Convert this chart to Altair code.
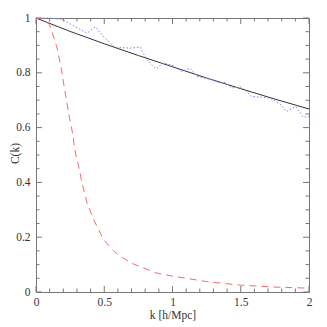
import altair as alt
import pandas as pd

# ---- data ----
black_k = [0.0, 0.25, 0.5, 0.75, 1.0, 1.25, 1.5, 1.75, 2.0]
black_c = [1.0, 0.951, 0.906, 0.863, 0.822, 0.781, 0.742, 0.704, 0.668]

blue_k = [0.0, 0.1, 0.19, 0.28, 0.374, 0.435, 0.5, 0.544, 0.58, 0.69, 0.763, 0.81,
          0.88, 0.934, 1.007, 1.068, 1.128, 1.177, 1.275, 1.348, 1.384, 1.433,
          1.506, 1.579, 1.713, 1.786, 1.835, 1.903, 1.956, 2.0]
blue_c = [1.0, 1.0, 0.995, 0.97, 0.945, 0.968, 0.93, 0.908, 0.893, 0.89, 0.894, 0.85,
          0.814, 0.836, 0.826, 0.805, 0.817, 0.787, 0.777, 0.763, 0.765, 0.745,
          0.748, 0.714, 0.708, 0.687, 0.659, 0.677, 0.639, 0.639]

red_k = [0.0, 0.05, 0.1, 0.155, 0.186, 0.203, 0.24, 0.264, 0.289, 0.313, 0.337,
         0.374, 0.422, 0.495, 0.568, 0.617, 0.714, 0.885, 1.0, 1.25, 1.5, 1.75, 2.0]
red_c = [1.0, 0.997, 0.975, 0.89, 0.815, 0.76, 0.65, 0.59, 0.507, 0.458, 0.398,
         0.325, 0.264, 0.191, 0.15, 0.13, 0.102, 0.069, 0.058, 0.038, 0.025, 0.018, 0.014]

x_major = [0, 0.5, 1, 1.5, 2]
x_minor = [0.1, 0.2, 0.3, 0.4, 0.6, 0.7, 0.8, 0.9, 1.1, 1.2, 1.3, 1.4, 1.6, 1.7, 1.8, 1.9]
y_major = [0, 0.2, 0.4, 0.6, 0.8, 1]
y_minor = [0.05, 0.1, 0.15, 0.25, 0.3, 0.35, 0.45, 0.5, 0.55, 0.65, 0.7, 0.75, 0.85, 0.9, 0.95]

W, H = 273, 274
FONT = "Liberation Serif"
TXT = "#333333"
GRAY = "#777777"
MAJ, MIN = 6, 3.5
FS = 11.5

xs = alt.Scale(domain=[0, 2], nice=False, zero=False)
ys = alt.Scale(domain=[0, 1], nice=False, zero=False)

xaxis = alt.Axis(values=x_major, format="~g", title="k [h/Mpc]", domain=False, ticks=False,
                 grid=False, labelPadding=4, labelFlush=False, labelFont=FONT, labelFontSize=FS,
                 titleFont=FONT, titleFontSize=FS, titleFontWeight="normal",
                 labelColor=TXT, titleColor=TXT, titleX=W / 2, titleY=23,
                 titleBaseline="middle", titleAlign="center")
yaxis = alt.Axis(values=y_major, format="~g", title="C(k)", domain=False, ticks=False,
                 grid=False, labelPadding=6, labelFlush=False, labelFont=FONT, labelFontSize=FS,
                 titleFont=FONT, titleFontSize=FS, titleFontWeight="normal",
                 labelColor=TXT, titleColor=TXT, titleX=-21, titleY=135,
                 titleBaseline="middle", titleAlign="center", titleAngle=270)

df_black = pd.DataFrame({"k": black_k, "c": black_c})
df_blue = pd.DataFrame({"k": blue_k, "c": blue_c})
df_red = pd.DataFrame({"k": red_k, "c": red_c})

black = alt.Chart(df_black).mark_line(color="#333333", strokeWidth=1).encode(
    x=alt.X("k:Q", scale=xs, axis=xaxis), y=alt.Y("c:Q", scale=ys, axis=yaxis))
blue = alt.Chart(df_blue).mark_line(color="#8080ff", strokeWidth=1, strokeDash=[1.5, 2]).encode(
    x=alt.X("k:Q", scale=xs), y=alt.Y("c:Q", scale=ys))
red = alt.Chart(df_red).mark_line(color="#ff6666", strokeWidth=1, strokeDash=[7, 5]).encode(
    x=alt.X("k:Q", scale=xs), y=alt.Y("c:Q", scale=ys))


def xticks(vals, length):
    d = pd.DataFrame({"t": vals})
    base = alt.Chart(d).mark_rule(color=GRAY, strokeWidth=1)
    bot = base.encode(x=alt.X("t:Q", scale=xs), y=alt.value(H), y2=alt.value(H - length))
    top = base.encode(x=alt.X("t:Q", scale=xs), y=alt.value(0), y2=alt.value(length))
    return [bot, top]


def yticks(vals, length):
    d = pd.DataFrame({"t": vals})
    base = alt.Chart(d).mark_rule(color=GRAY, strokeWidth=1)
    left = base.encode(y=alt.Y("t:Q", scale=ys), x=alt.value(0), x2=alt.value(length))
    right = base.encode(y=alt.Y("t:Q", scale=ys), x=alt.value(W), x2=alt.value(W - length))
    return [left, right]


layers = [black] + xticks(x_minor, MIN) + xticks(x_major, MAJ) + yticks(y_minor, MIN) + yticks(y_major, MAJ) + [red, blue]

chart = alt.layer(*layers).properties(
    width=W, height=H,
    padding={"left": 28, "top": 10, "right": 10, "bottom": 34},
    autosize=alt.AutoSizeParams(type="none"),
).configure_view(stroke=GRAY, strokeWidth=1)

chart.save("out.html", embed_options={"renderer": "svg", "actions": False})
